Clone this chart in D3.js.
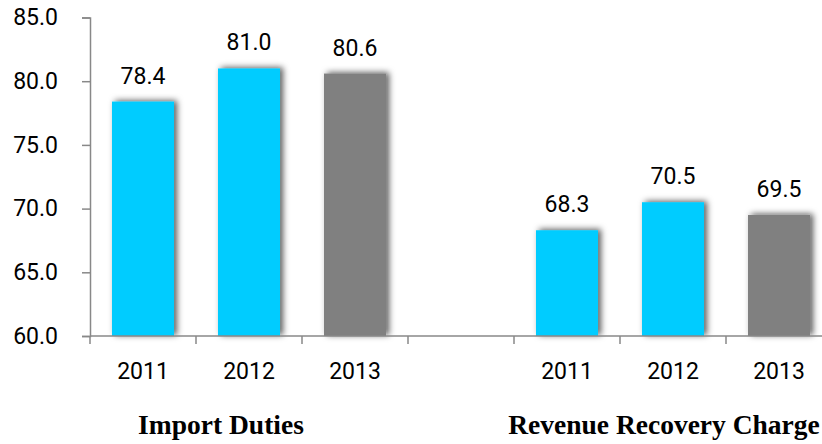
<!DOCTYPE html>
<html><head><meta charset="utf-8">
<script src="https://cdn.jsdelivr.net/npm/d3@7"></script>
<style>body{margin:0;background:#fff}svg{display:block}</style>
</head><body>
<svg id="c" width="822" height="444"></svg>
<script>
const slots = ["A2011","A2012","A2013","gap","B2011","B2012","B2013"];
const yearLabels = ["2011","2012","2013","","2011","2012","2013"];
const values = [78.4, 81.0, 80.6, null, 68.3, 70.5, 69.5];
const colors = ["#00CCFF","#00CCFF","#808080",null,"#00CCFF","#00CCFF","#808080"];
const yTicks = [60,65,70,75,80,85];
const groupTitles = ["Import Duties","Revenue Recovery Charge"];

const svg = d3.select("#c");
const x = d3.scaleBand().domain(slots).range([90, 832]).paddingInner(0.415).paddingOuter(0.2075);
const xs = d3.scaleBand().domain(slots).range([90, 832]);
const y = d3.scaleLinear().domain([60,85]).range([336, 17.5]);

const defs = svg.append("defs");
const f = defs.append("filter").attr("id","sh").attr("x","-30%").attr("y","-30%").attr("width","160%").attr("height","160%");
f.append("feDropShadow").attr("dx",3).attr("dy",-1).attr("stdDeviation",3).attr("flood-color","#000").attr("flood-opacity",0.65);

const font = "Roboto, 'Open Sans', sans-serif";

// y axis
const ya = svg.append("g").attr("transform","translate(90,0)")
  .call(d3.axisLeft(y).tickValues(yTicks).tickFormat(d3.format(".1f")).tickSize(8).tickPadding(24));
ya.select(".domain").attr("stroke","#888").attr("stroke-width",1.5);
ya.selectAll(".tick line").attr("stroke","#888").attr("stroke-width",1.5);
ya.selectAll(".tick text").attr("font-family",font).attr("font-size",23).attr("fill","#000");

// bars
const data = slots.map((s,i)=>({s, v:values[i], c:colors[i], lab:yearLabels[i]})).filter(d=>d.v!==null);
svg.append("g").selectAll("rect").data(data).join("rect")
  .attr("x",d=>x(d.s)).attr("width",x.bandwidth())
  .attr("y",d=>y(d.v)).attr("height",d=>y(60)-y(d.v))
  .attr("fill",d=>d.c).attr("filter","url(#sh)");

// x axis
const xa = svg.append("g").attr("transform","translate(0,336)");
xa.append("line").attr("x1",90).attr("x2",832).attr("stroke","#888").attr("stroke-width",1.5);
xa.selectAll("line.t").data(slots.concat(["end"])).join("line").attr("class","t")
  .attr("x1",(d,i)=>90+i*xs.step()).attr("x2",(d,i)=>90+i*xs.step())
  .attr("y1",0).attr("y2",8).attr("stroke","#888").attr("stroke-width",1.5);
xa.selectAll("text").data(slots).join("text")
  .attr("x",(d,i)=>x(d)+x.bandwidth()/2).attr("y",43)
  .attr("text-anchor","middle").attr("font-family",font).attr("font-size",23)
  .text((d,i)=>yearLabels[i]);

// value labels
svg.append("g").selectAll("text").data(data).join("text")
  .attr("x",d=>x(d.s)+x.bandwidth()/2).attr("y",d=>y(d.v)-18)
  .attr("text-anchor","middle").attr("font-family",font).attr("font-size",23)
  .text(d=>d.v.toFixed(1));

// group titles
svg.append("g").selectAll("text").data(groupTitles).join("text")
  .attr("x",(d,i)=>i===0?221:664).attr("y",434)
  .attr("text-anchor","middle").attr("font-family","'Liberation Serif', serif")
  .attr("font-weight","bold").attr("font-size",27.5)
  .text(d=>d);
</script>
</body></html>
